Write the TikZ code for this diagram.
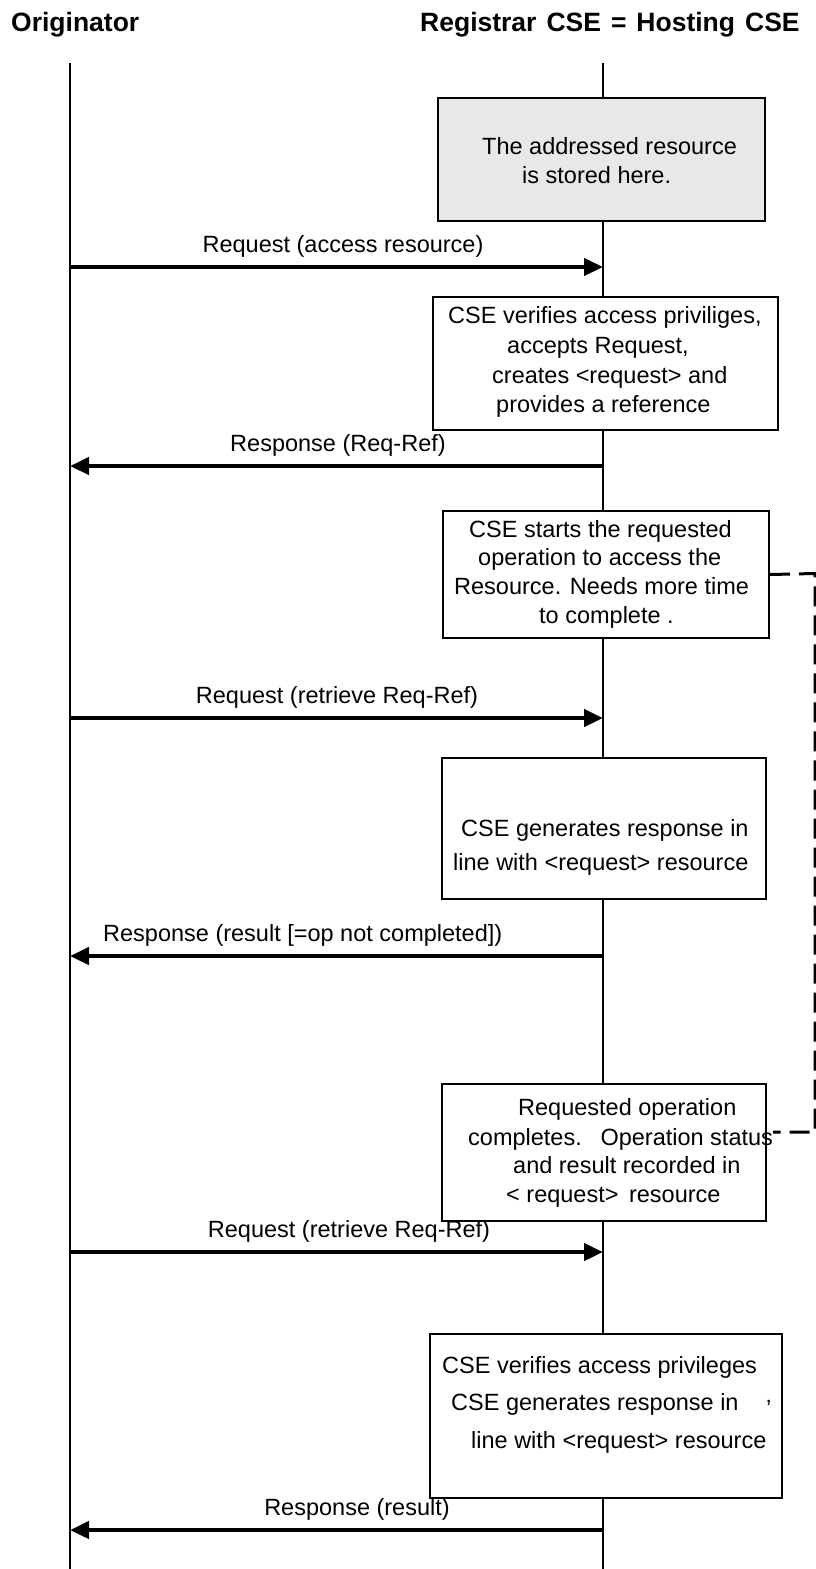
\documentclass[tikz,border=0pt]{standalone}
\usepackage{fontspec}
\setmainfont{Liberation Sans}
\usetikzlibrary{arrows.meta}
\definecolor{boxgray}{HTML}{E8E8E8}
\tikzset{
  lifeline/.style={line width=1.5pt},
  stepbox/.style={draw, line width=2pt, fill=white, anchor=north west, inner sep=0pt},
  msg/.style={line width=4.5pt, -{Triangle[length=19pt,width=17pt]}},
  lbl/.style={anchor=base, inner sep=0pt, font=\fontsize{23.5}{28}\selectfont},
  txt/.style={anchor=base west, inner sep=0pt, font=\fontsize{23.5}{28}\selectfont},
  ttl/.style={anchor=base west, inner sep=0pt, font=\bfseries\fontsize{26.5}{30}\selectfont},
  dashline/.style={line width=3pt, dash pattern=on 20pt off 9pt}
}
\begin{document}
\begin{tikzpicture}[x=1pt,y=-1pt]
\useasboundingbox (0,0) rectangle (816,1569);
% titles
\node[ttl] (t1) at (11,31) {Originator};
\node[ttl] (t2) at (420,31) {\spaceskip=10pt Registrar CSE = Hosting CSE};
% lifelines
\coordinate (oT) at (70,63); \coordinate (oB) at (70,1569);
\coordinate (rT) at (603,63); \coordinate (rB) at (603,1569);
\draw[lifeline] (oT) -- (oB);
\draw[lifeline] (rT) -- (rB);
% boxes
\node[stepbox, fill=boxgray, minimum width=327pt, minimum height=123pt] (b1) at (437,97) {};
\node[stepbox, minimum width=345pt, minimum height=133pt] (b2) at (432,296) {};
\node[stepbox, minimum width=326pt, minimum height=127pt] (b3) at (442,510) {};
\node[stepbox, minimum width=324pt, minimum height=141pt] (b4) at (441,757) {};
\node[stepbox, minimum width=324pt, minimum height=137pt] (b5) at (441,1083) {};
\node[stepbox, minimum width=352pt, minimum height=164pt] (b6) at (429,1333) {};
% box texts
\node[txt] (b1a) at (482,154) {The addressed resource};
\node[txt] (b1b) at (522,183) {is stored here.};
\node[txt] (b2a) at (448,323) {CSE verifies access priviliges,};
\node[txt] (b2b) at (507,353) {accepts Request,};
\node[txt] (b2c) at (492,383) {creates <request> and};
\node[txt] (b2d) at (496,412) {provides a reference};
\node[txt] (b3a) at (469,537) {CSE starts the requested};
\node[txt] (b3b) at (478,565) {operation to access the};
\node[txt] (b3c) at (454,594) {Resource. Needs more time};
\node[txt] (b3d) at (539,623) {to complete .};
\node[txt] (b4a) at (461,836) {CSE generates response in};
\node[txt] (b4b) at (453,870) {line with <request> resource};
\node[txt] (b5a) at (518,1115) {Requested operation};
\node[txt] (b5b) at (468,1145) {completes.\hspace{10pt} Operation status};
\node[txt] (b5c) at (513,1173) {and result recorded in};
\node[txt] (b5d) at (506,1202) {< request>\hspace{4pt} resource};
\node[txt] (b6a) at (442,1373) {CSE verifies access privileges};
\node[txt] (b6b) at (451,1410) {CSE generates response in};
\node[txt] (b6q) at (766,1416) {’};
\node[txt] (b6c) at (471,1448) {line with <request> resource};
% dashed connector
\coordinate (d1) at (815,573.5);
\coordinate (d2) at (815,1132);
\coordinate (d3) at (773,1132);
\draw[dashline] (b3.east) -- (d1) -- (d2) -- (d3);
% messages
\coordinate (o1) at (70,267);  \coordinate (r1) at (603,267);
\coordinate (o2) at (70,466);  \coordinate (r2) at (603,466);
\coordinate (o3) at (70,718);  \coordinate (r3) at (603,718);
\coordinate (o4) at (70,956);  \coordinate (r4) at (603,956);
\coordinate (o5) at (70,1252); \coordinate (r5) at (603,1252);
\coordinate (o6) at (70,1530); \coordinate (r6) at (603,1530);
\draw[msg] (o1) -- (r1);
\draw[msg] (r2) -- (o2);
\draw[msg] (o3) -- (r3);
\draw[msg] (r4) -- (o4);
\draw[msg] (o5) -- (r5);
\draw[msg] (r6) -- (o6);
\node[lbl] (l1) at (343,252) {Request (access resource)};
\node[lbl] (l2) at (338,451) {Response (Req-Ref)};
\node[lbl] (l3) at (337,703) {Request (retrieve Req-Ref)};
\node[lbl, anchor=base west] (l4) at (103,941) {Response (result [=op not completed])};
\node[lbl] (l5) at (349,1237) {Request (retrieve Req-Ref)};
\node[lbl] (l6) at (357,1515) {Response (result)};
\end{tikzpicture}
\end{document}
